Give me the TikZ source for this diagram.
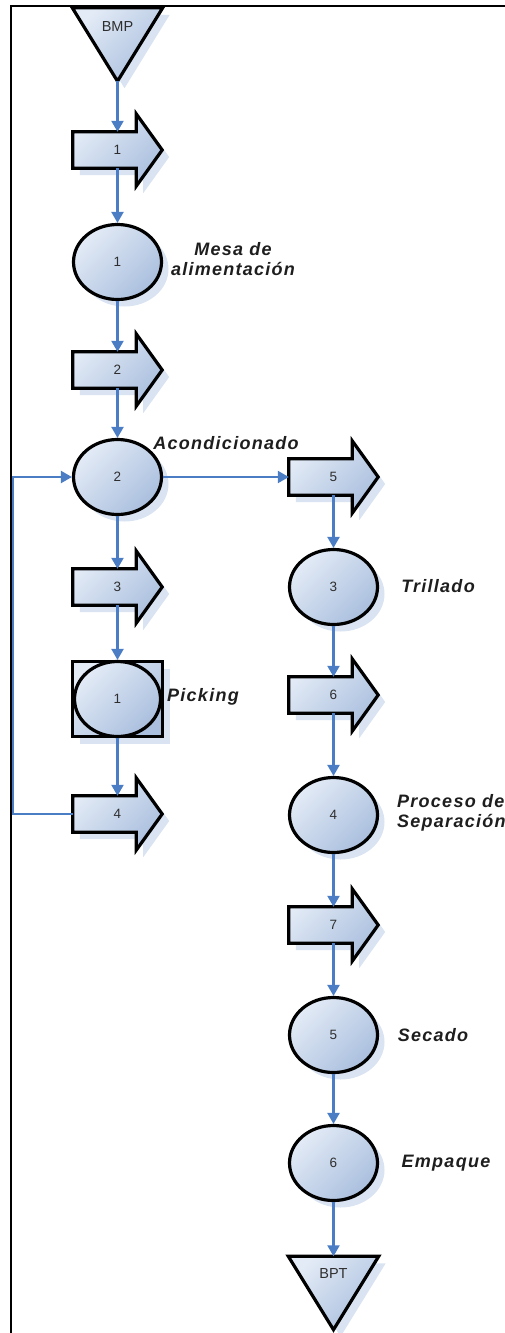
\documentclass[tikz,border=0pt]{standalone}
\usepackage{fontspec}
\setmainfont{Liberation Sans}
\newfontfamily\lblfont[LetterSpace=7]{Liberation Sans}
\usetikzlibrary{shapes.geometric,arrows.meta,calc,shadows}
\definecolor{flow}{HTML}{4A7DC4}
\definecolor{shapelight}{HTML}{E3EBF6}
\definecolor{shapedark}{HTML}{AABFDE}
\definecolor{shadowblue}{HTML}{D9E3F2}
\definecolor{lblgray}{HTML}{1E1E1E}
\definecolor{numgray}{HTML}{2E2E2E}
\pgfdeclarelayer{bg}
\pgfsetlayers{bg,main}
\begin{document}
\begin{tikzpicture}[x=1pt,y=-1pt,
  shapefill/.style={draw=black, line width=3.2pt, line join=miter,
    top color=shapelight, bottom color=shapedark, shading angle=45},
  shadowed/.style={drop shadow={shadow xshift=7pt, shadow yshift=-7pt, fill=shadowblue, opacity=1}},
  shape3d/.style={shapefill, shadowed},
  numtxt/.style={text=numgray, font=\fontsize{13.5}{15}\selectfont},
  arrowbody/.style={numtxt, rectangle, minimum width=89pt, minimum height=36pt, inner sep=0pt},
  opnode/.style={shape3d, numtxt, ellipse, minimum width=88pt, minimum height=75pt, inner sep=0pt},
  trinode/.style={rectangle, minimum width=90pt, minimum height=73pt, inner sep=0pt},
  lbl/.style={text=lblgray, font=\lblfont\bfseries\itshape\fontsize{18}{20}\selectfont, inner sep=0pt},
  flowline/.style={draw=flow, line width=2.2pt, -{Triangle[width=12pt,length=11pt]}},
  frameline/.style={draw=black, line width=2.4pt}]
\useasboundingbox (0,0) rectangle (505,1333);

% page frame (top and left edges)
\draw[frameline] (11,1340) -- (11,6) -- (510,6);

% ---- main column ----
\node[trinode] (bmp) at (117.5,44.5) {};
\node[arrowbody] (a1) at (117.5,150) {1};
\node[opnode] (c1) at (117.5,262) {1};
\node[arrowbody] (a2) at (117.5,370) {2};
\node[opnode] (c2) at (117.5,477) {2};
\node[arrowbody] (a3) at (117.5,587) {3};
\node[shape3d, rectangle, minimum width=90pt, minimum height=75pt, inner sep=0pt] (pk) at (117.5,699) {};
\node[shapefill, numtxt, ellipse, minimum width=86pt, minimum height=75pt, inner sep=0pt] (c7) at (117.5,699) {1};
\node[arrowbody] (a4) at (117.5,814) {4};

% ---- second column ----
\node[arrowbody] (a5) at (333.5,477) {5};
\node[opnode] (c3) at (333.5,587) {3};
\node[arrowbody] (a6) at (333.5,695) {6};
\node[opnode] (c4) at (333.5,815) {4};
\node[arrowbody] (a7) at (333.5,925) {7};
\node[opnode] (c5) at (333.5,1035) {5};
\node[opnode] (c6) at (333.5,1163) {6};
\node[trinode] (bpt) at (333.5,1293) {};

% triangle and block-arrow outlines behind their texts
\begin{pgfonlayer}{bg}
  \foreach \t in {bmp,bpt}
    \path[shape3d] (\t.north west) -- (\t.north east) -- (\t.south) -- cycle;
  \foreach \n in {a1,a2,a3,a4,a5,a6,a7}
    \path[shape3d] (\n.north west) -- ($(\n.north east)+(-26,0)$) -- ++(0,-18)
      -- (\n.east) -- ($(\n.south east)+(-26,18)$) -- ++(0,-18)
      -- (\n.south west) -- cycle;
\end{pgfonlayer}
\node[numtxt, font=\fontsize{14.5}{16}\selectfont, anchor=north] (bmptxt) at ($(bmp.north)+(0,10)$) {BMP};
\node[numtxt, font=\fontsize{14.5}{16}\selectfont, anchor=north] (bpttxt) at ($(bpt.north)+(0,9)$) {BPT};

% connectors
\draw[flowline] (bmp.south) -- (a1.north);
\draw[flowline] (a1.south) -- (c1.north);
\draw[flowline] (c1.south) -- (a2.north);
\draw[flowline] (a2.south) -- (c2.north);
\draw[flowline] (c2.south) -- (a3.north);
\draw[flowline] (a3.south) -- (pk.north);
\draw[flowline] (pk.south) -- (a4.north);
\draw[flowline] (a4.west) -- ++(-60,0) |- (c2.west);
\draw[flowline] (c2.east) -- (a5.west);
\draw[flowline] (a5.south) -- (c3.north);
\draw[flowline] (c3.south) -- (a6.north);
\draw[flowline] (a6.south) -- (c4.north);
\draw[flowline] (c4.south) -- (a7.north);
\draw[flowline] (a7.south) -- (c5.north);
\draw[flowline] (c5.south) -- (c6.north);
\draw[flowline] (c6.south) -- (bpt.north);

% operation names
\node[lbl, align=center] (l1) at (233,259) {Mesa de\\alimentación};
\node[lbl] (l2) at (226,443) {Acondicionado};
\node[lbl] (l3) at (438,586) {Trillado};
\node[lbl] (l4) at (203,697) {Picking};
\node[lbl, align=left, anchor=west] (l5) at (397,813) {Proceso de\\Separación};
\node[lbl] (l6) at (433,1035) {Secado};
\node[lbl] (l7) at (446,1163) {Empaque};
\end{tikzpicture}
\end{document}
